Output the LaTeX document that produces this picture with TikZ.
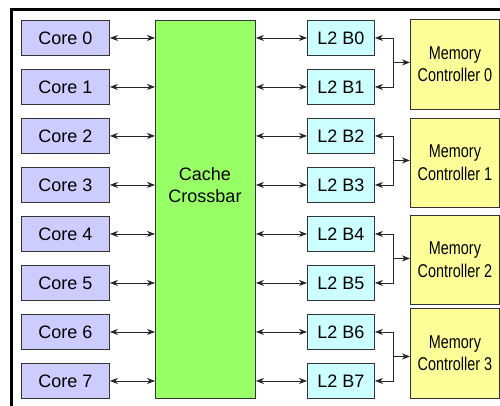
\documentclass[tikz,border=0pt]{standalone}
\usepackage{fontspec}
\setmainfont{Liberation Sans}
\newfontfamily\narrowfont[FakeStretch=0.78]{Liberation Sans}
\usetikzlibrary{arrows.meta,calc}
\definecolor{corefill}{HTML}{CCCCFF}
\definecolor{xbarfill}{HTML}{99FF66}
\definecolor{lfill}{HTML}{CCFFFF}
\definecolor{mcfill}{HTML}{FFFF99}
\definecolor{edge}{HTML}{333333}
\begin{document}
\begin{tikzpicture}[x=1pt,y=-1pt,
  box/.style={draw=edge, line width=0.9pt, anchor=north west, inner sep=0pt, align=center},
  corebox/.style={box, fill=corefill, minimum width=88pt, minimum height=35pt, font=\fontsize{18}{20}\selectfont},
  l2box/.style={box, fill=lfill, minimum width=67pt, minimum height=35pt, font=\fontsize{18}{20}\selectfont},
  mcbox/.style={box, fill=mcfill, minimum width=89pt, minimum height=90pt, font=\narrowfont\fontsize{18.5}{22.5}\selectfont},
  xbarbox/.style={box, fill=xbarfill, minimum width=100pt, minimum height=378pt},
  bilink/.style={draw=black!85, line width=0.8pt, {Stealth[length=8pt,width=6pt,inset=2.5pt]}-{Stealth[length=8pt,width=6pt,inset=2.5pt]}},
  onelink/.style={draw=black!85, line width=0.8pt, -{Stealth[length=8pt,width=6pt,inset=2.5pt]}}
]
\useasboundingbox (0,0) rectangle (500,406);
\draw[line width=3pt, line cap=rect] (11.5,406) -- (11.5,9.5) -- (500,9.5);

\node[xbarbox] (xbar) at (155,20) {};
\node[font=\fontsize{18}{22}\selectfont, align=center] (xbarlabel) at (205,185) {Cache\\Crossbar};

\foreach \i/\y in {0/20,1/69,2/118,3/167,4/216,5/265,6/314,7/363}{
  \node[corebox] (core\i) at (21,\y) {Core \i};
  \node[l2box] (l2b\i) at (307,\y) {L2 B\i};
  \draw[bilink] (core\i.east) -- (xbar.west |- core\i.east);
  \draw[bilink] (xbar.east |- l2b\i.west) -- (l2b\i.west);
}

\foreach \m/\y/\h/\a/\b in {0/19/90/0/1,1/118/89/2/3,2/215/89/4/5,3/308/90/6/7}{
  \node[mcbox, minimum height=\h pt] (mc\m) at (410,\y) {Memory\\Controller \m};
  \coordinate (j\m) at ([xshift=18pt]$(l2b\a.east)!0.5!(l2b\b.east)$);
  \draw[onelink] (j\m) |- (l2b\a.east);
  \draw[onelink] (j\m) |- (l2b\b.east);
  \draw[onelink] (j\m) -- (mc\m.west |- j\m);
}
\end{tikzpicture}
\end{document}
